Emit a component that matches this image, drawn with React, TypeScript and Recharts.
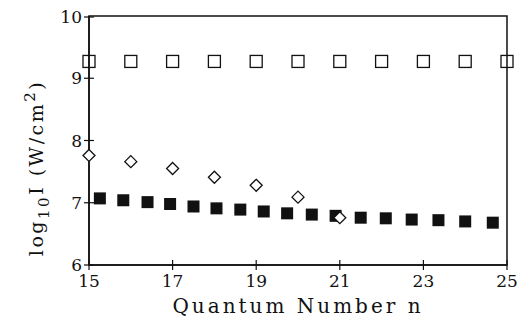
import React from 'react'
import { ScatterChart, Scatter, XAxis, YAxis, ReferenceArea } from 'recharts'

// values
const openN = [15, 16, 17, 18, 19, 20, 21, 22, 23, 24, 25]
const openLogI = [9.27, 9.27, 9.27, 9.27, 9.27, 9.27, 9.27, 9.27, 9.27, 9.27, 9.27]

const diamondN = [15, 16, 17, 18, 19, 20, 21]
const diamondLogI = [7.76, 7.66, 7.55, 7.41, 7.28, 7.09, 6.76]

const filledN = [15.26, 15.82, 16.4, 16.94, 17.5, 18.05, 18.62, 19.18, 19.74, 20.33, 20.9, 21.5, 22.1, 22.72, 23.36, 24.0, 24.66]
const filledLogI = [7.07, 7.04, 7.01, 6.98, 6.94, 6.91, 6.89, 6.86, 6.83, 6.81, 6.79, 6.76, 6.75, 6.73, 6.72, 6.7, 6.68]

const xTicks = [15, 17, 19, 21, 23, 25]
const yTicks = [6, 7, 8, 9, 10]

const toPoints = (xs: number[], ys: number[]) => xs.map((n, i) => ({ n, logI: ys[i] }))

const INK = '#111'
const FONT = '"DejaVu Serif", serif'

const OpenSquare = (props: any) => {
  const { cx, cy } = props
  return <rect x={cx - 6} y={cy - 6} width={12} height={12} fill="none" stroke={INK} strokeWidth={1.3} />
}

const FilledSquare = (props: any) => {
  const { cx, cy } = props
  return <rect x={cx - 6} y={cy - 6} width={12} height={12} fill={INK} />
}

const Diamond = (props: any) => {
  const { cx, cy } = props
  const r = 6
  return (
    <polygon
      points={`${cx},${cy - r} ${cx + r},${cy} ${cx},${cy + r} ${cx - r},${cy}`}
      fill="white"
      stroke={INK}
      strokeWidth={1.3}
    />
  )
}

const XTick = (props: any) => {
  const { x, y, payload } = props
  return (
    <g>
      <line x1={x} x2={x} y1={y - 5} y2={y + 5} stroke={INK} strokeWidth={1.2} />
      <text x={x} y={y + 22} textAnchor="middle" fontFamily={FONT} fontSize={17} fill={INK}>
        {payload.value}
      </text>
    </g>
  )
}

const YTick = (props: any) => {
  const { x, y, payload } = props
  return (
    <g>
      <line x1={x - 5} x2={x + 5} y1={y} y2={y} stroke={INK} strokeWidth={1.2} />
      <text x={x - 7} y={y + 6} textAnchor="end" fontFamily={FONT} fontSize={17} fill={INK}>
        {payload.value}
      </text>
    </g>
  )
}

const YLabel = () => (
  <text
    transform="translate(35,160) rotate(-90)"
    textAnchor="middle"
    fontFamily={FONT}
    fontSize={19}
    fill={INK}
    letterSpacing={2.5}
  >
    <tspan>log</tspan>
    <tspan dy={6} fontSize={15}>10</tspan>
    <tspan dy={-6}>I (W/cm</tspan>
    <tspan dy={-8} fontSize={15}>2</tspan>
    <tspan dy={8}>)</tspan>
  </text>
)

export default function App() {
  return (
    <ScatterChart width={518} height={313} margin={{ top: 8, right: 19, bottom: 16, left: 31 }}>
      <XAxis
        type="number"
        dataKey="n"
        domain={[15, 25]}
        ticks={xTicks}
        tickSize={0}
        tickMargin={0}
        tickLine={false}
        tick={<XTick />}
        axisLine={{ stroke: INK, strokeWidth: 1.5 }}
        height={40}
        label={{ value: 'Quantum Number n', position: 'insideBottom', offset: -8, fontFamily: FONT, fontSize: 20, fill: INK, letterSpacing: 3 }}
      />
      <YAxis
        type="number"
        dataKey="logI"
        domain={[6, 10]}
        ticks={yTicks}
        tickSize={0}
        tickMargin={0}
        tickLine={false}
        tick={<YTick />}
        axisLine={{ stroke: INK, strokeWidth: 1.5 }}
        width={50}
        label={<YLabel />}
      />
      <ReferenceArea x1={15} x2={25} y1={6} y2={10} fill="none" stroke={INK} strokeWidth={1.5} />
      <Scatter data={toPoints(openN, openLogI)} shape={<OpenSquare />} isAnimationActive={false} />
      <Scatter data={toPoints(filledN, filledLogI)} shape={<FilledSquare />} isAnimationActive={false} />
      <Scatter data={toPoints(diamondN, diamondLogI)} shape={<Diamond />} isAnimationActive={false} />
    </ScatterChart>
  )
}
